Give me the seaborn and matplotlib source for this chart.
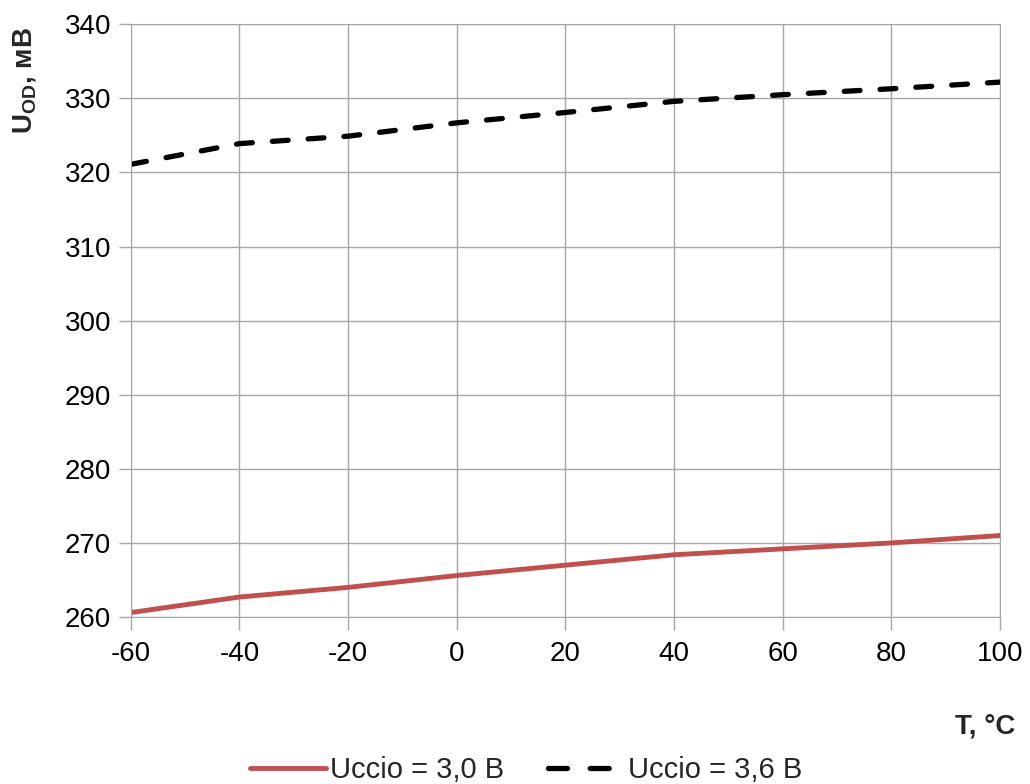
import pandas as pd
import seaborn as sns
import matplotlib.pyplot as plt

# data
temps = [-60, -40, -20, 0, 20, 40, 60, 80, 100]
u_30 = [260.6, 262.7, 264.0, 265.6, 267.0, 268.4, 269.2, 270.0, 271.0]
u_36 = [321.1, 323.9, 324.9, 326.7, 328.1, 329.6, 330.5, 331.3, 332.2]
series_names = ['Uccio = 3,0 В', 'Uccio = 3,6 В']

df = pd.DataFrame({
    'T': temps * 2,
    'U': u_30 + u_36,
    'series': [series_names[0]] * len(temps) + [series_names[1]] * len(temps),
})

sns.set_style('white')
plt.rcParams['font.family'] = ['Liberation Sans', 'DejaVu Sans']
plt.rcParams['mathtext.fontset'] = 'custom'
plt.rcParams['mathtext.rm'] = 'Liberation Sans'
plt.rcParams['mathtext.bf'] = 'Liberation Sans:bold'
plt.rcParams['axes.unicode_minus'] = False

red = '#c0504d'
dash = (3.0, 3.8)

fig = plt.figure(figsize=(10.3, 7.84), dpi=100)
ax = fig.add_axes([0.127, 0.213, 0.844, 0.756])

sns.lineplot(data=df, x='T', y='U', hue='series', style='series',
             palette={series_names[0]: red, series_names[1]: 'black'},
             dashes={series_names[0]: '', series_names[1]: dash},
             ax=ax, legend=False)
ax.lines[0].set_linewidth(3.5)
ax.lines[1].set_linewidth(3.8)
ax.lines[1].set_dash_capstyle('round')

ax.set_xlim(-60, 100)
ax.set_ylim(260, 340)
ax.set_xticks(range(-60, 101, 20))
ax.set_yticks(range(260, 341, 10))
ax.grid(True, color='#a6a6a6', linewidth=1)
for s in ax.spines.values():
    s.set_color('#a6a6a6')
ax.tick_params(axis='both', labelsize=20, colors='#a6a6a6', labelcolor='black',
               length=9, width=1, direction='out', left=True, bottom=True)
ax.tick_params(axis='x', pad=8)
ax.tick_params(axis='y', pad=5)

ax.set_xlabel('')
ax.set_ylabel('')
fig.text(0.024, 0.966, r'$\mathbf{U_{OD}}$, мВ', rotation=90, ha='center', va='top',
         fontsize=20, fontweight='bold')
fig.text(0.986, 0.073, 'T, °C', ha='right', va='center',
         fontsize=20, fontweight='bold')

# legend handle: two dashes, as in the original
handles = [plt.Line2D([], [], color=red, lw=3.5),
           plt.Line2D([], [], color='black', lw=3.8, dashes=(3.6, 4.3),
                      dash_capstyle='round')]
fig.legend(handles, series_names, loc='center', bbox_to_anchor=(0.511, 0.018),
           ncol=2, frameon=False, fontsize=21, handlelength=2.6,
           handletextpad=0.15, columnspacing=1.5, borderpad=0)

plt.savefig('out.png', dpi=100)
